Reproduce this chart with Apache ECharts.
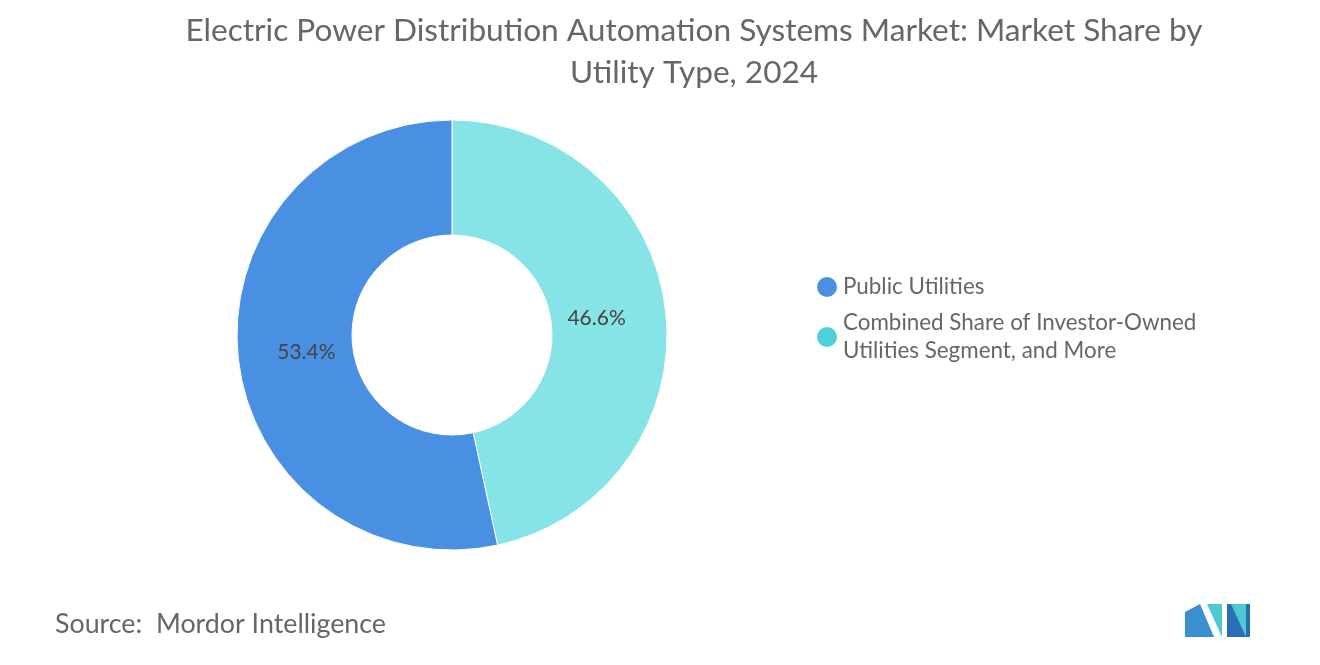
<!DOCTYPE html>
<html><head><meta charset="utf-8">
<script src="https://cdn.jsdelivr.net/npm/echarts@6/dist/echarts.min.js"></script>
<style>html,body{margin:0;padding:0;background:#fff}#c{width:1320px;height:665px}</style>
</head><body><div id="c"></div>
<script>
const categories = ["Combined Share of Investor-Owned\nUtilities Segment, and More", "Public Utilities"];
const values = [46.6, 53.4];
const legendOrder = ["Public Utilities", "Combined Share of Investor-Owned\nUtilities Segment, and More"];
const colors = ["#86E3E6", "#4A90E2"];
const chart = echarts.init(document.getElementById('c'));
chart.setOption({
  backgroundColor: '#fff',
  title: {
    text: 'Electric Power Distribution Automation Systems Market: Market Share by\nUtility Type, 2024',
    left: 689, top: 5, textAlign: 'center',
    textStyle: {fontFamily: 'Lato', fontSize: 31.6, fontWeight: 'normal', color: '#666', lineHeight: 42}
  },
  legend: {
    orient: 'vertical', left: 810, top: 268, itemGap: 8,
    icon: 'circle', itemWidth: 22, itemHeight: 22,
    data: legendOrder.map((n,i)=>({name:n, itemStyle:{color: i===0 ? '#4A90E2' : '#4DD0D8'}})),
    textStyle: {fontFamily: 'Lato', fontSize: 22.4, color: '#666', lineHeight: 28}
  },
  series: [{
    type: 'pie', center: [452, 335], radius: [100, 215], startAngle: 90,
    clockwise: true,
    data: categories.map((n,i)=>({name:n, value:values[i], itemStyle:{color:colors[i]}})),
    itemStyle: {borderColor: '#fff', borderWidth: 1},
    label: {position: 'inner', formatter: p => p.value.toFixed(1) + '%', fontFamily: 'Lato', fontSize: 21, color: '#444'},
    labelLayout: p => ({dx: p.dataIndex === 0 ? -15 : 14}),
    labelLine: {show: false}
  }],
  graphic: [
    {type: 'text', left: 55, top: 611, style: {text: 'Source:  Mordor Intelligence', fontFamily: 'Lato', fontSize: 26.8, fill: '#666'}},
    {type: 'polygon', shape: {points: [[1185,637],[1185,612],[1200,604],[1214,637]]}, style: {fill: '#3A8FD0'}},
    {type: 'polygon', shape: {points: [[1207,604],[1222,637],[1222,604]]}, style: {fill: '#4DC9D0'}},
    {type: 'polygon', shape: {points: [[1227,604],[1227,637],[1250,637],[1250,604]]}, style: {fill: '#2A6FB5'}},
    {type: 'polygon', shape: {points: [[1231,604],[1246,637],[1246,604]]}, style: {fill: '#4DC9D0'}}
  ]
});
</script></body></html>
